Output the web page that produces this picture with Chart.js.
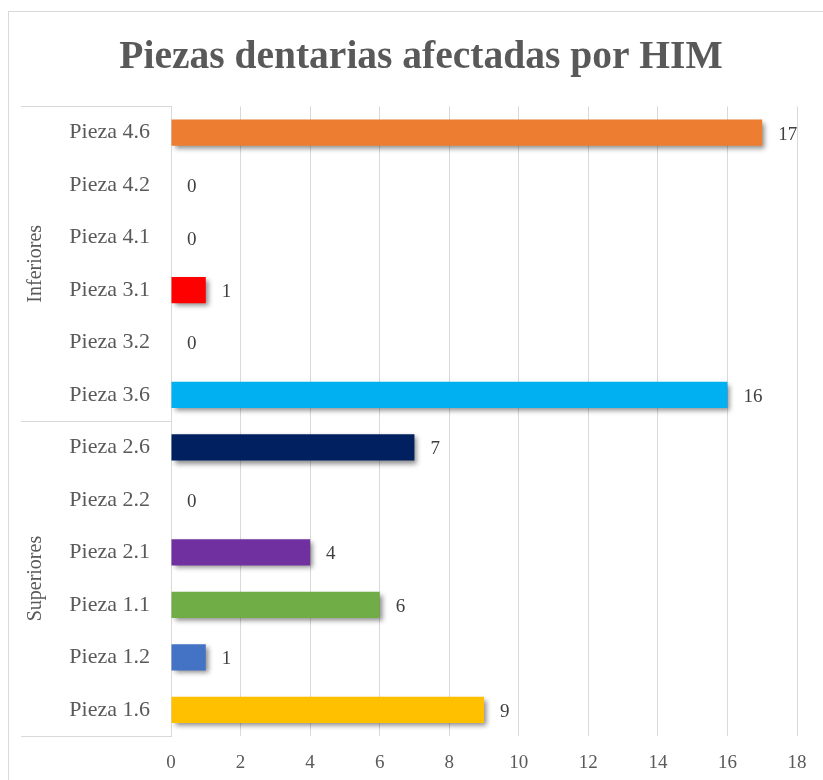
<!DOCTYPE html>
<html>
<head>
<meta charset="utf-8">
<script src="https://cdn.jsdelivr.net/npm/chart.js@4/dist/chart.umd.min.js"></script>
<style>
  html, body { margin: 0; padding: 0; background: #ffffff; overflow: hidden; width: 823px; height: 780px; }
  #frame { position: absolute; left: 8px; top: 11px; width: 830px; height: 790px; border: 1px solid #d9d9d9; background: #fff; }
  canvas { display: block; }
</style>
</head>
<body>
<div id="frame"><canvas id="c" width="830" height="790"></canvas></div>
<script>
const title = 'Piezas dentarias afectadas por HIM';
const categories = ['Pieza 4.6','Pieza 4.2','Pieza 4.1','Pieza 3.1','Pieza 3.2','Pieza 3.6',
                    'Pieza 2.6','Pieza 2.2','Pieza 2.1','Pieza 1.1','Pieza 1.2','Pieza 1.6'];
const values = [17, 0, 0, 1, 0, 16, 7, 0, 4, 6, 1, 9];
const barColors = ['#ED7D31','#FFFFFF','#FFFFFF','#FF0000','#FFFFFF','#00B0F0',
                   '#002060','#FFFFFF','#7030A0','#70AD47','#4472C4','#FFC000'];
const groups = ['Inferiores', 'Superiores'];
const groupSizes = [6, 6];
const xMin = 0, xMax = 18, xStep = 2;

const SERIF = "'Liberation Serif', 'Times New Roman', serif";
const GRID = '#d9d9d9';
const PAD_LEFT = 36;

const shadowPlugin = {
  id: 'barShadow',
  beforeDatasetDraw(chart) {
    const ctx = chart.ctx;
    ctx.save();
    ctx.shadowColor = 'rgba(0,0,0,0.45)';
    ctx.shadowBlur = 5;
    ctx.shadowOffsetX = 3;
    ctx.shadowOffsetY = 3;
  },
  afterDatasetDraw(chart) {
    chart.ctx.restore();
  }
};

const labelPlugin = {
  id: 'valueLabels',
  afterDatasetsDraw(chart) {
    const ctx = chart.ctx;
    const meta = chart.getDatasetMeta(0);
    ctx.save();
    ctx.font = '19px ' + SERIF;
    ctx.fillStyle = '#404040';
    ctx.textAlign = 'left';
    ctx.textBaseline = 'middle';
    meta.data.forEach((bar, i) => {
      ctx.fillText(String(values[i]), bar.x + 16, bar.y + 2);
    });
    ctx.restore();
  }
};

const groupPlugin = {
  id: 'groupAxis',
  afterDraw(chart) {
    const ctx = chart.ctx;
    const y = chart.scales.y;
    const area = chart.chartArea;
    const left = 12;
    const right = area.left;
    const half = (y.getPixelForValue(1) - y.getPixelForValue(0)) / 2;
    ctx.save();
    ctx.strokeStyle = GRID;
    ctx.lineWidth = 1;
    let idx = 0;
    const bounds = [y.getPixelForValue(0) - half];
    groupSizes.forEach(n => {
      idx += n;
      bounds.push(y.getPixelForValue(idx - 1) + half);
    });
    bounds.forEach(b => {
      const yy = Math.round(b) + 0.5;
      ctx.beginPath();
      ctx.moveTo(left, yy);
      ctx.lineTo(right, yy);
      ctx.stroke();
    });
    ctx.fillStyle = '#595959';
    ctx.font = '20px ' + SERIF;
    ctx.textAlign = 'center';
    ctx.textBaseline = 'middle';
    groups.forEach((g, i) => {
      const cy = (bounds[i] + bounds[i + 1]) / 2;
      ctx.save();
      ctx.translate(27, cy);
      ctx.rotate(-Math.PI / 2);
      ctx.fillText(g, 0, 0);
      ctx.restore();
    });
    ctx.restore();
  }
};

new Chart(document.getElementById('c'), {
  type: 'bar',
  data: {
    labels: categories,
    datasets: [{
      data: values,
      backgroundColor: barColors,
      borderWidth: 0,
      barPercentage: 0.5,
      categoryPercentage: 1.0
    }]
  },
  options: {
    indexAxis: 'y',
    responsive: false,
    animation: false,
    devicePixelRatio: 1,
    layout: { padding: { left: PAD_LEFT, right: 42, top: 0, bottom: 0 } },
    plugins: {
      legend: { display: false },
      tooltip: { enabled: false },
      title: {
        display: true,
        text: title,
        color: '#595959',
        font: { family: SERIF, size: 39.5, weight: 'bold', lineHeight: 1.2 },
        padding: { top: 22, bottom: 25 }
      }
    },
    scales: {
      x: {
        min: xMin, max: xMax,
        ticks: { stepSize: xStep, color: '#595959', font: { family: SERIF, size: 19 }, padding: 16 },
        grid: { color: GRID, drawTicks: false },
        border: { display: false },
        afterFit(scale) { scale.height = 66; }
      },
      y: {
        ticks: { color: '#595959', font: { family: SERIF, size: 22 }, padding: 21 },
        grid: { display: false, drawTicks: false },
        border: { display: true, color: GRID },
        afterFit(scale) { scale.width = 162 - PAD_LEFT; }
      }
    }
  },
  plugins: [shadowPlugin, labelPlugin, groupPlugin]
});
</script>
</body>
</html>
